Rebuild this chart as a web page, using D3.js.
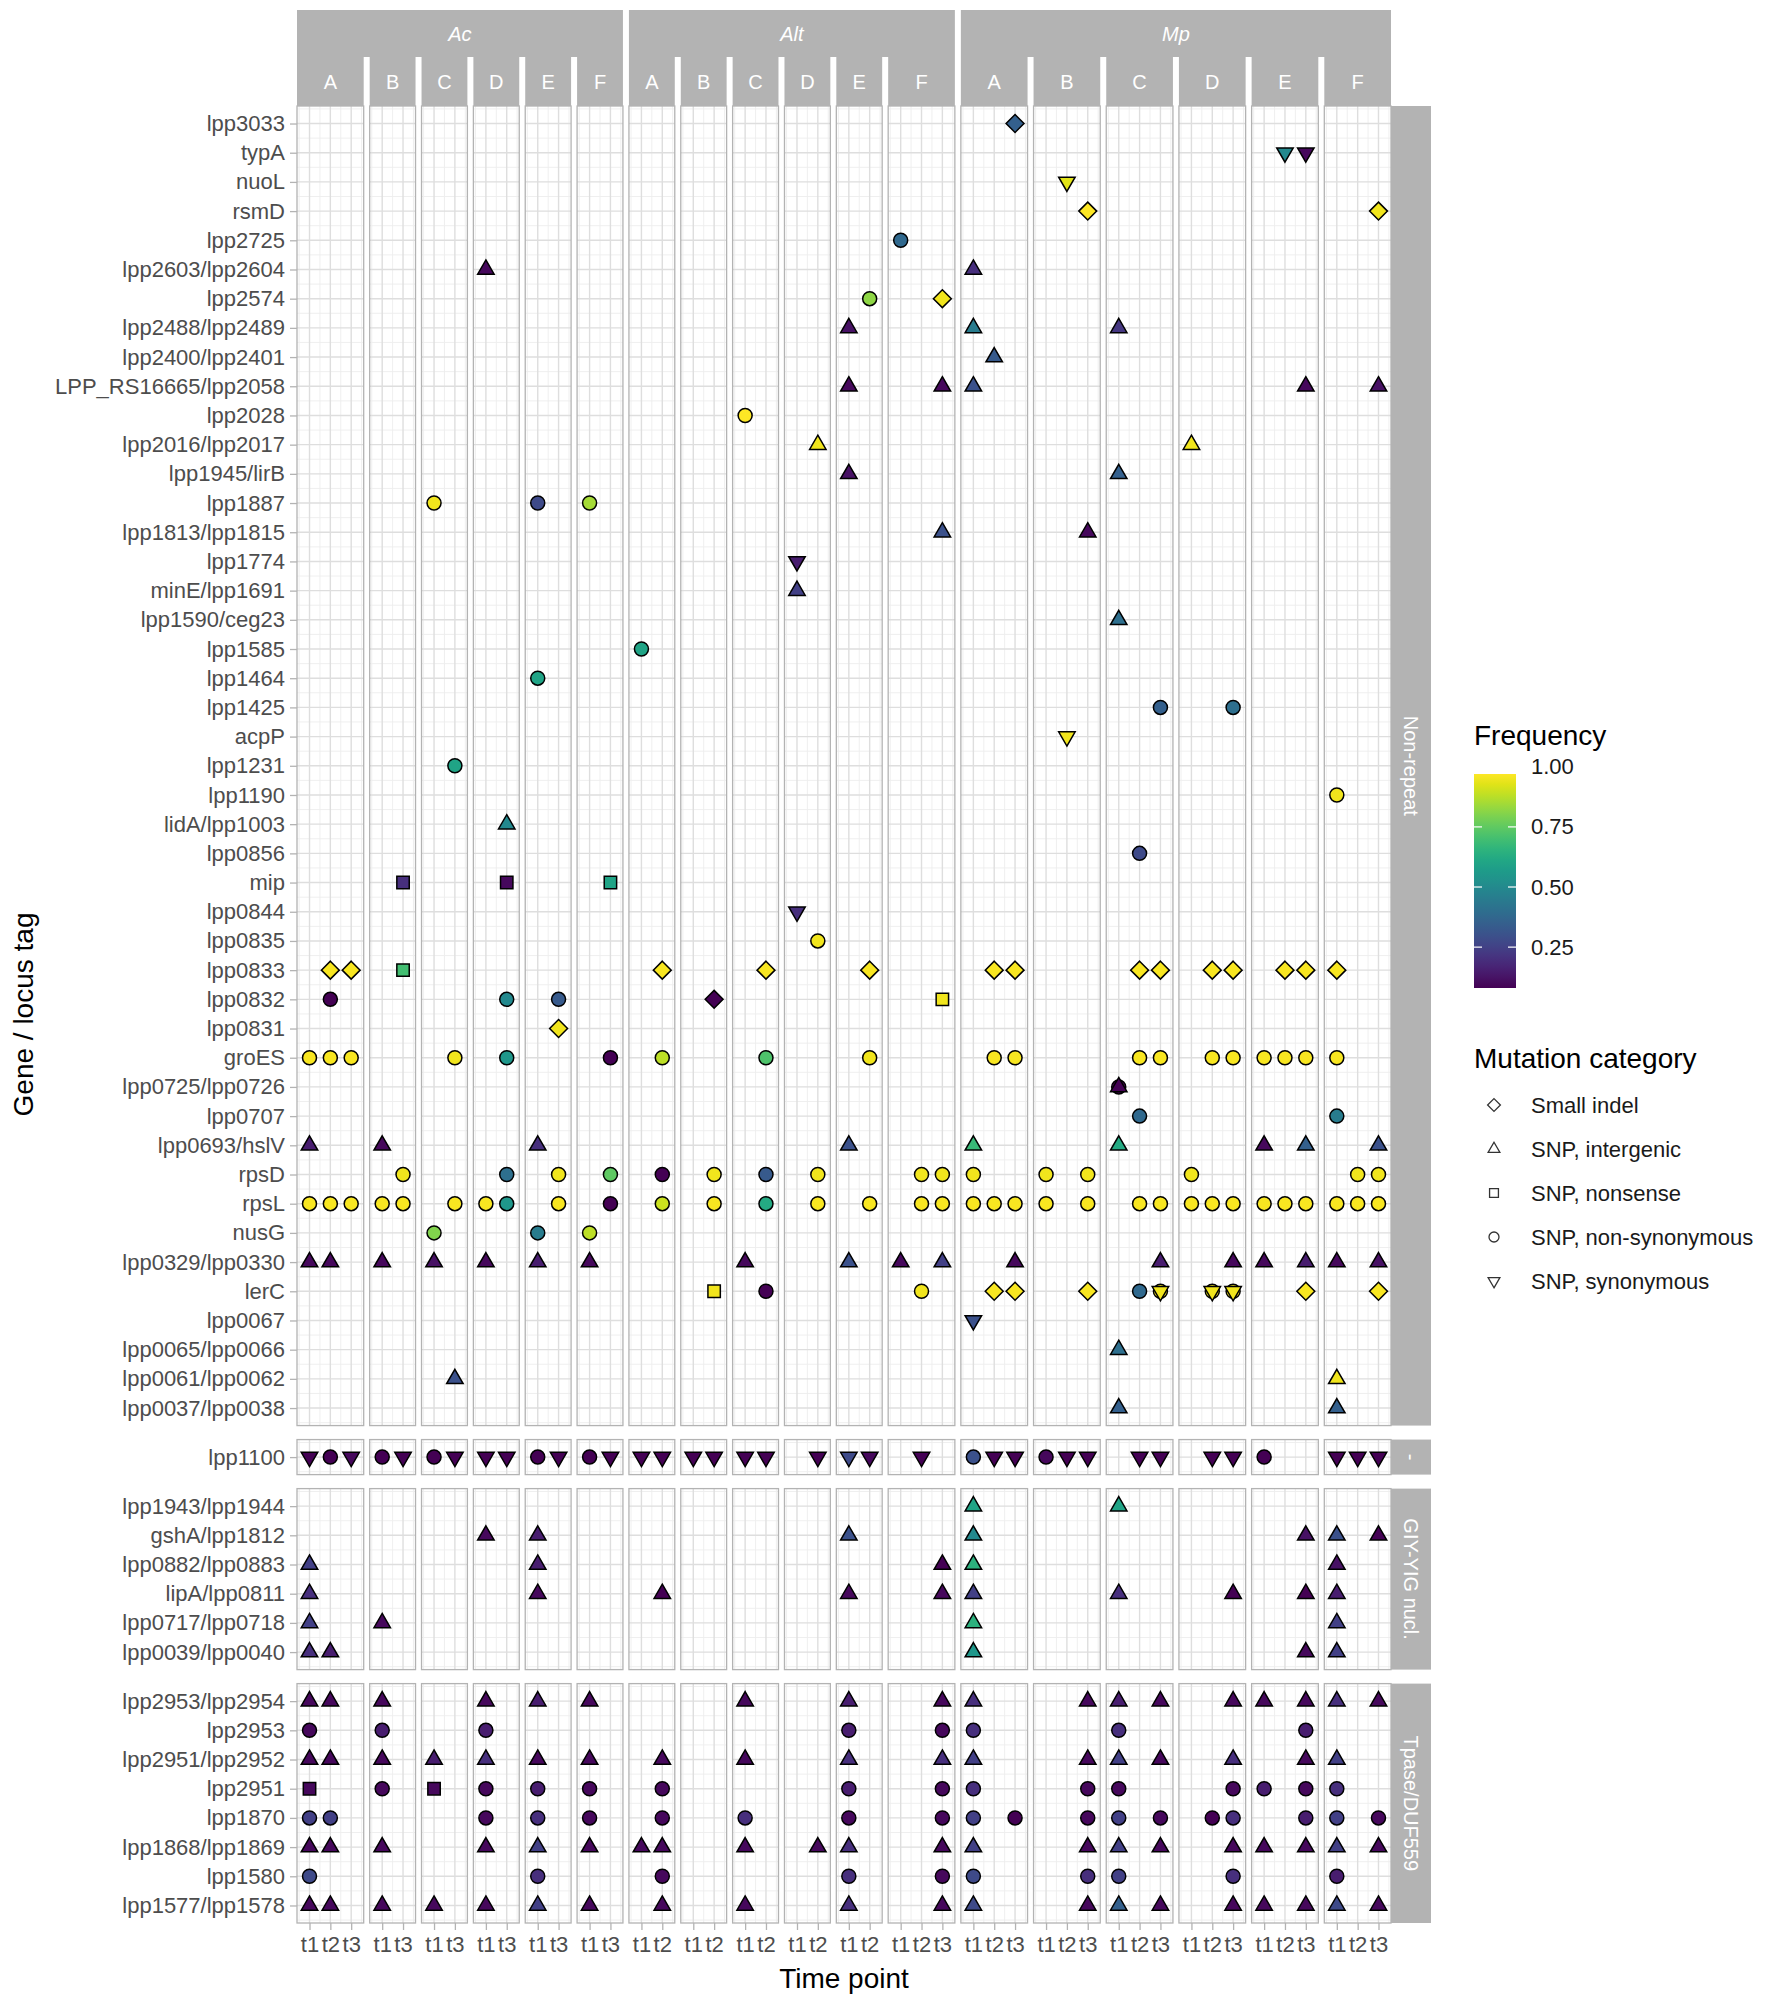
<!DOCTYPE html>
<html>
<head>
<meta charset="utf-8">
<script src="https://cdn.jsdelivr.net/npm/d3@7"></script>
<style>
  body { margin: 0; background: #fff; }
  text { font-family: "Liberation Sans", Arial, Helvetica, sans-serif; }
</style>
</head>
<body>
<svg id="chart" width="1774" height="2000"></svg>
<script>
// ---- data ----
const groups = ["Ac", "Alt", "Mp"];
const lines = ["A", "B", "C", "D", "E", "F"];
// time points sampled per line, one list per group
const acTimes  = [["t1","t2","t3"], ["t1","t3"], ["t1","t3"], ["t1","t3"], ["t1","t3"], ["t1","t3"]];
const altTimes = [["t1","t2"], ["t1","t2"], ["t1","t2"], ["t1","t2"], ["t1","t2"], ["t1","t2","t3"]];
const mpTimes  = [["t1","t2","t3"], ["t1","t2","t3"], ["t1","t2","t3"], ["t1","t2","t3"], ["t1","t2","t3"], ["t1","t2","t3"]];

const rowFacets = ["Non-repeat", "-", "GIY-YIG nucl.", "Tpase/DUF559"];

const nonRepeatGenes = ["lpp3033","typA","nuoL","rsmD","lpp2725","lpp2603/lpp2604","lpp2574","lpp2488/lpp2489",
  "lpp2400/lpp2401","LPP_RS16665/lpp2058","lpp2028","lpp2016/lpp2017","lpp1945/lirB","lpp1887","lpp1813/lpp1815",
  "lpp1774","minE/lpp1691","lpp1590/ceg23","lpp1585","lpp1464","lpp1425","acpP","lpp1231","lpp1190","lidA/lpp1003",
  "lpp0856","mip","lpp0844","lpp0835","lpp0833","lpp0832","lpp0831","groES","lpp0725/lpp0726","lpp0707",
  "lpp0693/hslV","rpsD","rpsL","nusG","lpp0329/lpp0330","lerC","lpp0067","lpp0065/lpp0066","lpp0061/lpp0062",
  "lpp0037/lpp0038"];
const otherGenes = ["lpp1100"];
const giyGenes = ["lpp1943/lpp1944","gshA/lpp1812","lpp0882/lpp0883","lipA/lpp0811","lpp0717/lpp0718","lpp0039/lpp0040"];
const tpaseGenes = ["lpp2953/lpp2954","lpp2953","lpp2951/lpp2952","lpp2951","lpp1870","lpp1868/lpp1869","lpp1580","lpp1577/lpp1578"];

const categories = ["Small indel", "SNP, intergenic", "SNP, nonsense", "SNP, non-synonymous", "SNP, synonymous"];
const categoryCodes = ["I", "G", "N", "S", "Y"];

// [gene, group+line, time points, category code, frequency]
const nonRepeatMuts = [
  ["lpp3033","MpA","t3","I",0.35],
  ["typA","MpE","t2","Y",0.5], ["typA","MpE","t3","Y",0.1],
  ["nuoL","MpB","t2","Y",0.93],
  ["rsmD","MpB","t3","I",0.97], ["rsmD","MpF","t3","I",0.95],
  ["lpp2725","AltF","t1","S",0.38],
  ["lpp2603/lpp2604","AcD","t1","G",0.1], ["lpp2603/lpp2604","MpA","t1","G",0.2],
  ["lpp2574","AltE","t2","S",0.82], ["lpp2574","AltF","t3","I",0.95],
  ["lpp2488/lpp2489","AltE","t1","G",0.12], ["lpp2488/lpp2489","MpA","t1","G",0.45], ["lpp2488/lpp2489","MpC","t1","G",0.22],
  ["lpp2400/lpp2401","MpA","t2","G",0.33],
  ["LPP_RS16665/lpp2058","AltE","t1","G",0.1], ["LPP_RS16665/lpp2058","AltF","t3","G",0.1],
  ["LPP_RS16665/lpp2058","MpA","t1","G",0.3], ["LPP_RS16665/lpp2058","MpE","t3","G",0.1],
  ["LPP_RS16665/lpp2058","MpF","t3","G",0.12],
  ["lpp2028","AltC","t1","S",0.97],
  ["lpp2016/lpp2017","AltD","t2","G",0.95], ["lpp2016/lpp2017","MpD","t1","G",0.95],
  ["lpp1945/lirB","AltE","t1","G",0.12], ["lpp1945/lirB","MpC","t1","G",0.35],
  ["lpp1887","AcC","t1","S",0.95], ["lpp1887","AcE","t1","S",0.28], ["lpp1887","AcF","t1","S",0.85],
  ["lpp1813/lpp1815","AltF","t3","G",0.3], ["lpp1813/lpp1815","MpB","t3","G",0.1],
  ["lpp1774","AltD","t1","Y",0.15],
  ["minE/lpp1691","AltD","t1","G",0.25],
  ["lpp1590/ceg23","MpC","t1","G",0.4],
  ["lpp1585","AltA","t1","S",0.6],
  ["lpp1464","AcE","t1","S",0.6],
  ["lpp1425","MpC","t3","S",0.35], ["lpp1425","MpD","t3","S",0.4],
  ["acpP","MpB","t2","Y",0.95],
  ["lpp1231","AcC","t3","S",0.6],
  ["lpp1190","MpF","t1","S",0.95],
  ["lidA/lpp1003","AcD","t3","G",0.5],
  ["lpp0856","MpC","t2","S",0.28],
  ["mip","AcB","t3","N",0.2], ["mip","AcD","t3","N",0.1], ["mip","AcF","t3","N",0.6],
  ["lpp0844","AltD","t1","Y",0.2],
  ["lpp0835","AltD","t2","S",0.95],
  ["lpp0833","AcA","t2,t3","I",0.96], ["lpp0833","AcB","t3","N",0.7], ["lpp0833","AltA","t2","I",0.96],
  ["lpp0833","AltC","t2","I",0.96], ["lpp0833","AltE","t2","I",0.96], ["lpp0833","MpA","t2,t3","I",0.96],
  ["lpp0833","MpC","t2,t3","I",0.96], ["lpp0833","MpD","t2,t3","I",0.96], ["lpp0833","MpE","t2,t3","I",0.96],
  ["lpp0833","MpF","t1","I",0.96],
  ["lpp0832","AcA","t2","S",0.08], ["lpp0832","AcD","t3","S",0.5], ["lpp0832","AcE","t3","S",0.33],
  ["lpp0832","AltB","t2","I",0.08], ["lpp0832","AltF","t3","N",0.95],
  ["lpp0831","AcE","t3","I",0.95],
  ["groES","AcA","t1,t2,t3","S",0.96], ["groES","AcC","t3","S",0.95], ["groES","AcD","t3","S",0.55],
  ["groES","AcF","t3","S",0.08], ["groES","AltA","t2","S",0.88], ["groES","AltC","t2","S",0.72],
  ["groES","AltE","t2","S",0.95], ["groES","MpA","t2,t3","S",0.96], ["groES","MpC","t2,t3","S",0.96],
  ["groES","MpD","t2,t3","S",0.96], ["groES","MpE","t1,t2,t3","S",0.96], ["groES","MpF","t1","S",0.96],
  ["lpp0725/lpp0726","MpC","t1","S",0.08], ["lpp0725/lpp0726","MpC","t1","G",0.08],
  ["lpp0707","MpC","t2","S",0.38], ["lpp0707","MpF","t1","S",0.45],
  ["lpp0693/hslV","AcA","t1","G",0.15], ["lpp0693/hslV","AcB","t1","G",0.1], ["lpp0693/hslV","AcE","t1","G",0.2],
  ["lpp0693/hslV","AltE","t1","G",0.3], ["lpp0693/hslV","MpA","t1","G",0.68], ["lpp0693/hslV","MpC","t1","G",0.62],
  ["lpp0693/hslV","MpE","t1","G",0.1], ["lpp0693/hslV","MpE","t3","G",0.35], ["lpp0693/hslV","MpF","t3","G",0.3],
  ["rpsD","AcB","t3","S",0.95], ["rpsD","AcD","t3","S",0.4], ["rpsD","AcE","t3","S",0.95], ["rpsD","AcF","t3","S",0.75],
  ["rpsD","AltA","t2","S",0.08], ["rpsD","AltB","t2","S",0.95], ["rpsD","AltC","t2","S",0.33], ["rpsD","AltD","t2","S",0.95],
  ["rpsD","AltF","t2,t3","S",0.95], ["rpsD","MpA","t1","S",0.95], ["rpsD","MpB","t1,t3","S",0.95],
  ["rpsD","MpD","t1","S",0.95], ["rpsD","MpF","t2,t3","S",0.95],
  ["rpsL","AcA","t1,t2,t3","S",0.96], ["rpsL","AcB","t1,t3","S",0.96], ["rpsL","AcC","t3","S",0.96],
  ["rpsL","AcD","t1","S",0.96], ["rpsL","AcD","t3","S",0.55], ["rpsL","AcE","t3","S",0.96], ["rpsL","AcF","t3","S",0.08],
  ["rpsL","AltA","t2","S",0.9], ["rpsL","AltB","t2","S",0.96], ["rpsL","AltC","t2","S",0.62], ["rpsL","AltD","t2","S",0.96],
  ["rpsL","AltE","t2","S",0.96], ["rpsL","AltF","t2,t3","S",0.96], ["rpsL","MpA","t1,t2,t3","S",0.96],
  ["rpsL","MpB","t1,t3","S",0.96], ["rpsL","MpC","t2,t3","S",0.96], ["rpsL","MpD","t1,t2,t3","S",0.96],
  ["rpsL","MpE","t1,t2,t3","S",0.96], ["rpsL","MpF","t1,t2,t3","S",0.96],
  ["nusG","AcC","t1","S",0.8], ["nusG","AcE","t1","S",0.45], ["nusG","AcF","t1","S",0.88],
  ["lpp0329/lpp0330","AcA","t1,t2","G",0.1], ["lpp0329/lpp0330","AcB","t1","G",0.1], ["lpp0329/lpp0330","AcC","t1","G",0.12],
  ["lpp0329/lpp0330","AcD","t1","G",0.1], ["lpp0329/lpp0330","AcE","t1","G",0.15], ["lpp0329/lpp0330","AcF","t1","G",0.1],
  ["lpp0329/lpp0330","AltC","t1","G",0.1], ["lpp0329/lpp0330","AltE","t1","G",0.3], ["lpp0329/lpp0330","AltF","t1","G",0.1],
  ["lpp0329/lpp0330","AltF","t3","G",0.25], ["lpp0329/lpp0330","MpA","t3","G",0.1], ["lpp0329/lpp0330","MpC","t3","G",0.15],
  ["lpp0329/lpp0330","MpD","t3","G",0.1], ["lpp0329/lpp0330","MpE","t1","G",0.1], ["lpp0329/lpp0330","MpE","t3","G",0.15],
  ["lpp0329/lpp0330","MpF","t1","G",0.1], ["lpp0329/lpp0330","MpF","t3","G",0.12],
  ["lerC","AltB","t2","N",0.95], ["lerC","AltC","t2","S",0.08], ["lerC","AltF","t2","S",0.95],
  ["lerC","MpA","t2,t3","I",0.96], ["lerC","MpB","t3","I",0.96], ["lerC","MpC","t2","S",0.38],
  ["lerC","MpC","t3","S",0.95], ["lerC","MpC","t3","Y",0.95], ["lerC","MpD","t2,t3","S",0.95],
  ["lerC","MpD","t2,t3","Y",0.95], ["lerC","MpE","t3","I",0.96], ["lerC","MpF","t3","I",0.96],
  ["lpp0067","MpA","t1","Y",0.3],
  ["lpp0065/lpp0066","MpC","t1","G",0.4],
  ["lpp0061/lpp0062","AcC","t3","G",0.3], ["lpp0061/lpp0062","MpF","t1","G",0.95],
  ["lpp0037/lpp0038","MpC","t1","G",0.35], ["lpp0037/lpp0038","MpF","t1","G",0.35]
];

const otherMuts = [
  ["lpp1100","AcA","t1","Y",0.08], ["lpp1100","AcA","t2","S",0.08], ["lpp1100","AcA","t3","Y",0.1],
  ["lpp1100","AcB","t1","S",0.08], ["lpp1100","AcB","t3","Y",0.08],
  ["lpp1100","AcC","t1","S",0.08], ["lpp1100","AcC","t3","Y",0.08],
  ["lpp1100","AcD","t1,t3","Y",0.08],
  ["lpp1100","AcE","t1","S",0.08], ["lpp1100","AcE","t3","Y",0.08],
  ["lpp1100","AcF","t1","S",0.08], ["lpp1100","AcF","t3","Y",0.08],
  ["lpp1100","AltA","t1,t2","Y",0.08], ["lpp1100","AltB","t1,t2","Y",0.08], ["lpp1100","AltC","t1,t2","Y",0.08],
  ["lpp1100","AltD","t2","Y",0.08], ["lpp1100","AltE","t1","Y",0.28], ["lpp1100","AltE","t2","Y",0.1],
  ["lpp1100","AltF","t2","Y",0.08],
  ["lpp1100","MpA","t1","S",0.3], ["lpp1100","MpA","t2,t3","Y",0.08],
  ["lpp1100","MpB","t1","S",0.1], ["lpp1100","MpB","t2,t3","Y",0.08],
  ["lpp1100","MpC","t2,t3","Y",0.08], ["lpp1100","MpD","t2,t3","Y",0.08],
  ["lpp1100","MpE","t1","S",0.08], ["lpp1100","MpF","t1,t2,t3","Y",0.08]
];

const giyMuts = [
  ["lpp1943/lpp1944","MpA","t1","G",0.6], ["lpp1943/lpp1944","MpC","t1","G",0.6],
  ["gshA/lpp1812","AcD","t1","G",0.1], ["gshA/lpp1812","AcE","t1","G",0.15], ["gshA/lpp1812","AltE","t1","G",0.3],
  ["gshA/lpp1812","MpA","t1","G",0.5], ["gshA/lpp1812","MpE","t3","G",0.12], ["gshA/lpp1812","MpF","t1","G",0.3],
  ["gshA/lpp1812","MpF","t3","G",0.08],
  ["lpp0882/lpp0883","AcA","t1","G",0.25], ["lpp0882/lpp0883","AcE","t1","G",0.15], ["lpp0882/lpp0883","AltF","t3","G",0.08],
  ["lpp0882/lpp0883","MpA","t1","G",0.65], ["lpp0882/lpp0883","MpF","t1","G",0.12],
  ["lipA/lpp0811","AcA","t1","G",0.2], ["lipA/lpp0811","AcE","t1","G",0.1], ["lipA/lpp0811","AltA","t2","G",0.08],
  ["lipA/lpp0811","AltE","t1","G",0.1], ["lipA/lpp0811","AltF","t3","G",0.1], ["lipA/lpp0811","MpA","t1","G",0.25],
  ["lipA/lpp0811","MpC","t1","G",0.2], ["lipA/lpp0811","MpD","t3","G",0.08], ["lipA/lpp0811","MpE","t3","G",0.08],
  ["lipA/lpp0811","MpF","t1","G",0.15],
  ["lpp0717/lpp0718","AcA","t1","G",0.25], ["lpp0717/lpp0718","AcB","t1","G",0.1],
  ["lpp0717/lpp0718","MpA","t1","G",0.65], ["lpp0717/lpp0718","MpF","t1","G",0.25],
  ["lpp0039/lpp0040","AcA","t1","G",0.2], ["lpp0039/lpp0040","AcA","t2","G",0.15], ["lpp0039/lpp0040","MpA","t1","G",0.55],
  ["lpp0039/lpp0040","MpE","t3","G",0.1], ["lpp0039/lpp0040","MpF","t1","G",0.25]
];

const tpaseMuts = [
  ["lpp2953/lpp2954","AcA","t1,t2","G",0.1], ["lpp2953/lpp2954","AcB","t1","G",0.1], ["lpp2953/lpp2954","AcD","t1","G",0.1],
  ["lpp2953/lpp2954","AcE","t1","G",0.15], ["lpp2953/lpp2954","AcF","t1","G",0.1], ["lpp2953/lpp2954","AltC","t1","G",0.1],
  ["lpp2953/lpp2954","AltE","t1","G",0.15], ["lpp2953/lpp2954","AltF","t3","G",0.1], ["lpp2953/lpp2954","MpA","t1","G",0.2],
  ["lpp2953/lpp2954","MpB","t3","G",0.1], ["lpp2953/lpp2954","MpC","t1","G",0.15], ["lpp2953/lpp2954","MpC","t3","G",0.1],
  ["lpp2953/lpp2954","MpD","t3","G",0.1], ["lpp2953/lpp2954","MpE","t1","G",0.1], ["lpp2953/lpp2954","MpE","t3","G",0.1],
  ["lpp2953/lpp2954","MpF","t1","G",0.2], ["lpp2953/lpp2954","MpF","t3","G",0.1],
  ["lpp2953","AcA","t1","S",0.1], ["lpp2953","AcB","t1","S",0.15], ["lpp2953","AcD","t1","S",0.15],
  ["lpp2953","AltE","t1","S",0.15], ["lpp2953","AltF","t3","S",0.1], ["lpp2953","MpA","t1","S",0.2],
  ["lpp2953","MpC","t1","S",0.2], ["lpp2953","MpE","t3","S",0.15],
  ["lpp2951/lpp2952","AcA","t1,t2","G",0.1], ["lpp2951/lpp2952","AcB","t1","G",0.1], ["lpp2951/lpp2952","AcC","t1","G",0.15],
  ["lpp2951/lpp2952","AcD","t1","G",0.2], ["lpp2951/lpp2952","AcE","t1","G",0.1], ["lpp2951/lpp2952","AcF","t1","G",0.1],
  ["lpp2951/lpp2952","AltA","t2","G",0.1], ["lpp2951/lpp2952","AltC","t1","G",0.1], ["lpp2951/lpp2952","AltE","t1","G",0.2],
  ["lpp2951/lpp2952","AltF","t3","G",0.2], ["lpp2951/lpp2952","MpA","t1","G",0.25], ["lpp2951/lpp2952","MpB","t3","G",0.1],
  ["lpp2951/lpp2952","MpC","t1","G",0.25], ["lpp2951/lpp2952","MpC","t3","G",0.1], ["lpp2951/lpp2952","MpD","t3","G",0.2],
  ["lpp2951/lpp2952","MpE","t3","G",0.1], ["lpp2951/lpp2952","MpF","t1","G",0.25],
  ["lpp2951","AcA","t1","N",0.1], ["lpp2951","AcB","t1","S",0.1], ["lpp2951","AcC","t1","N",0.1],
  ["lpp2951","AcD","t1","S",0.1], ["lpp2951","AcE","t1","S",0.15], ["lpp2951","AcF","t1","S",0.1],
  ["lpp2951","AltA","t2","S",0.1], ["lpp2951","AltE","t1","S",0.15], ["lpp2951","AltF","t3","S",0.1],
  ["lpp2951","MpA","t1","S",0.2], ["lpp2951","MpB","t3","S",0.1], ["lpp2951","MpC","t1","S",0.1],
  ["lpp2951","MpD","t3","S",0.1], ["lpp2951","MpE","t1","S",0.15], ["lpp2951","MpE","t3","S",0.1],
  ["lpp2951","MpF","t1","S",0.2],
  ["lpp1870","AcA","t1,t2","S",0.25], ["lpp1870","AcD","t1","S",0.1], ["lpp1870","AcE","t1","S",0.2],
  ["lpp1870","AcF","t1","S",0.1], ["lpp1870","AltA","t2","S",0.1], ["lpp1870","AltC","t1","S",0.2],
  ["lpp1870","AltE","t1","S",0.1], ["lpp1870","AltF","t3","S",0.1], ["lpp1870","MpA","t1","S",0.25],
  ["lpp1870","MpA","t3","S",0.08], ["lpp1870","MpB","t3","S",0.1], ["lpp1870","MpC","t1","S",0.25],
  ["lpp1870","MpC","t3","S",0.1], ["lpp1870","MpD","t2","S",0.08], ["lpp1870","MpD","t3","S",0.2],
  ["lpp1870","MpE","t3","S",0.15], ["lpp1870","MpF","t1","S",0.25], ["lpp1870","MpF","t3","S",0.1],
  ["lpp1868/lpp1869","AcA","t1,t2","G",0.1], ["lpp1868/lpp1869","AcB","t1","G",0.1], ["lpp1868/lpp1869","AcD","t1","G",0.1],
  ["lpp1868/lpp1869","AcE","t1","G",0.25], ["lpp1868/lpp1869","AcF","t1","G",0.1], ["lpp1868/lpp1869","AltA","t1,t2","G",0.1],
  ["lpp1868/lpp1869","AltC","t1","G",0.1], ["lpp1868/lpp1869","AltD","t2","G",0.1], ["lpp1868/lpp1869","AltE","t1","G",0.2],
  ["lpp1868/lpp1869","AltF","t3","G",0.1], ["lpp1868/lpp1869","MpA","t1","G",0.25], ["lpp1868/lpp1869","MpB","t3","G",0.1],
  ["lpp1868/lpp1869","MpC","t1","G",0.25], ["lpp1868/lpp1869","MpC","t3","G",0.1], ["lpp1868/lpp1869","MpD","t3","G",0.1],
  ["lpp1868/lpp1869","MpE","t1","G",0.1], ["lpp1868/lpp1869","MpE","t3","G",0.1], ["lpp1868/lpp1869","MpF","t1","G",0.25],
  ["lpp1868/lpp1869","MpF","t3","G",0.1],
  ["lpp1580","AcA","t1","S",0.28], ["lpp1580","AcE","t1","S",0.2], ["lpp1580","AltA","t2","S",0.1],
  ["lpp1580","AltE","t1","S",0.2], ["lpp1580","AltF","t3","S",0.1], ["lpp1580","MpA","t1","S",0.28],
  ["lpp1580","MpB","t3","S",0.2], ["lpp1580","MpC","t1","S",0.25], ["lpp1580","MpD","t3","S",0.2],
  ["lpp1580","MpF","t1","S",0.15],
  ["lpp1577/lpp1578","AcA","t1,t2","G",0.1], ["lpp1577/lpp1578","AcB","t1","G",0.1], ["lpp1577/lpp1578","AcC","t1","G",0.1],
  ["lpp1577/lpp1578","AcD","t1","G",0.1], ["lpp1577/lpp1578","AcE","t1","G",0.25], ["lpp1577/lpp1578","AcF","t1","G",0.1],
  ["lpp1577/lpp1578","AltA","t2","G",0.1], ["lpp1577/lpp1578","AltC","t1","G",0.1], ["lpp1577/lpp1578","AltE","t1","G",0.2],
  ["lpp1577/lpp1578","AltF","t3","G",0.1], ["lpp1577/lpp1578","MpA","t1","G",0.28], ["lpp1577/lpp1578","MpB","t3","G",0.1],
  ["lpp1577/lpp1578","MpC","t1","G",0.35], ["lpp1577/lpp1578","MpC","t3","G",0.1], ["lpp1577/lpp1578","MpD","t3","G",0.1],
  ["lpp1577/lpp1578","MpE","t1","G",0.1], ["lpp1577/lpp1578","MpE","t3","G",0.1], ["lpp1577/lpp1578","MpF","t1","G",0.28],
  ["lpp1577/lpp1578","MpF","t3","G",0.1]
];

const freqTicks = [0.25, 0.5, 0.75, 1.0];

// ---- layout ----
const plotLeft = 297, plotRight = 1391, panelTop = 106, panelBottom = 1923;
const gapX = 6, gapY = 14;
const stripColor = "#B3B3B3", gridColor = "#DEDEDE", minorColor = "#EDEDED";

const svg = d3.select("#chart");
svg.append("rect").attr("width", 1774).attr("height", 2000).attr("fill", "#fff");

const timeSets = [acTimes, altTimes, mpTimes];
const panels = [];
groups.forEach((g, gi) => lines.forEach((l, li) => {
  panels.push({ group: g, line: l, key: g + l, times: timeSets[gi][li] });
}));
const unitsX = d3.sum(panels, p => p.times.length + 0.2);
const unitX = (plotRight - plotLeft - gapX * (panels.length - 1)) / unitsX;
let cursorX = plotLeft;
panels.forEach(p => {
  p.x0 = cursorX;
  p.w = (p.times.length + 0.2) * unitX;
  p.x = d3.scalePoint().domain(p.times).range([p.x0, p.x0 + p.w]).padding(0.6);
  cursorX += p.w + gapX;
});
const panelByKey = new Map(panels.map(p => [p.key, p]));

const rows = [
  { label: rowFacets[0], genes: nonRepeatGenes, muts: nonRepeatMuts },
  { label: rowFacets[1], genes: otherGenes, muts: otherMuts },
  { label: rowFacets[2], genes: giyGenes, muts: giyMuts },
  { label: rowFacets[3], genes: tpaseGenes, muts: tpaseMuts }
];
const unitsY = d3.sum(rows, r => r.genes.length + 0.2);
const unitY = (panelBottom - panelTop - gapY * (rows.length - 1)) / unitsY;
let cursorY = panelTop;
rows.forEach(r => {
  r.y0 = cursorY;
  r.h = (r.genes.length + 0.2) * unitY;
  r.y = d3.scalePoint().domain(r.genes).range([r.y0, r.y0 + r.h]).padding(0.6);
  cursorY += r.h + gapY;
});

const allFreqs = rows.flatMap(r => r.muts.map(m => m[4]));
const color = d3.scaleSequential(d3.interpolateViridis).domain(d3.extent(allFreqs));

// shape paths, base radius r (ggplot-like equal-area symbols)
function shapePath(code, r) {
  if (code === "S") return `M${-r},0a${r},${r} 0 1,0 ${2 * r},0a${r},${r} 0 1,0 ${-2 * r},0Z`;
  if (code === "N") { const s = r * 0.886; return `M${-s},${-s}H${s}V${s}H${-s}Z`; }
  if (code === "I") { const d = r * 1.28; return `M0,${-d}L${d},0L0,${d}L${-d},0Z`; }
  const t = r * 1.36, hx = t * Math.sqrt(3) / 2;
  if (code === "G") return `M0,${-t}L${hx},${t / 2}L${-hx},${t / 2}Z`;
  return `M0,${t}L${hx},${-t / 2}L${-hx},${-t / 2}Z`;
}

// ---- panels: grid ----
const gridG = svg.append("g");
rows.forEach(r => {
  const stepY = r.y.step();
  const y0 = r.y(r.genes[0]);
  panels.forEach(p => {
    const stepX = p.x.step();
    const x0 = p.x(p.times[0]);
    const g = gridG.append("g");
    d3.range(p.times.length + 1).forEach(k => {
      const x = x0 + (k - 0.5) * stepX;
      g.append("line").attr("x1", x).attr("x2", x).attr("y1", r.y0).attr("y2", r.y0 + r.h)
        .attr("stroke", minorColor).attr("stroke-width", 0.9);
    });
    d3.range(r.genes.length + 1).forEach(k => {
      const y = y0 + (k - 0.5) * stepY;
      g.append("line").attr("x1", p.x0).attr("x2", p.x0 + p.w).attr("y1", y).attr("y2", y)
        .attr("stroke", minorColor).attr("stroke-width", 0.9);
    });
    p.times.forEach(t => {
      g.append("line").attr("x1", p.x(t)).attr("x2", p.x(t)).attr("y1", r.y0).attr("y2", r.y0 + r.h)
        .attr("stroke", gridColor).attr("stroke-width", 1.4);
    });
    r.genes.forEach(gn => {
      g.append("line").attr("x1", p.x0).attr("x2", p.x0 + p.w).attr("y1", r.y(gn)).attr("y2", r.y(gn))
        .attr("stroke", gridColor).attr("stroke-width", 1.4);
    });
  });
});

// ---- points ----
const pointG = svg.append("g");
rows.forEach(r => {
  const pts = r.muts.flatMap(m => m[2].split(",").map(t => ({ gene: m[0], panel: panelByKey.get(m[1]), time: t, code: m[3], freq: m[4] })));
  pointG.selectAll(null).data(pts).join("path")
    .attr("transform", d => `translate(${d.panel.x(d.time)},${r.y(d.gene)})`)
    .attr("d", d => shapePath(d.code, 7))
    .attr("fill", d => color(d.freq))
    .attr("stroke", "#000")
    .attr("stroke-width", 1.5);
});

// ---- panel borders ----
rows.forEach(r => panels.forEach(p => {
  svg.append("rect").attr("x", p.x0).attr("y", r.y0).attr("width", p.w).attr("height", r.h)
    .attr("fill", "none").attr("stroke", stripColor).attr("stroke-width", 1.3);
}));

// ---- top strips ----
groups.forEach(g => {
  const ps = panels.filter(p => p.group === g);
  const x0 = ps[0].x0, x1 = ps[ps.length - 1].x0 + ps[ps.length - 1].w;
  svg.append("rect").attr("x", x0).attr("y", 10).attr("width", x1 - x0).attr("height", 47).attr("fill", stripColor);
  svg.append("text").attr("x", (x0 + x1) / 2).attr("y", 33.5).attr("dy", "0.35em")
    .attr("text-anchor", "middle").attr("fill", "#fff").attr("font-size", 20).attr("font-style", "italic").text(g);
});
panels.forEach(p => {
  svg.append("rect").attr("x", p.x0).attr("y", 57).attr("width", p.w).attr("height", 49).attr("fill", stripColor);
  svg.append("text").attr("x", p.x0 + p.w / 2).attr("y", 81.5).attr("dy", "0.35em")
    .attr("text-anchor", "middle").attr("fill", "#fff").attr("font-size", 20).text(p.line);
});

// ---- right strips ----
rows.forEach(r => {
  svg.append("rect").attr("x", plotRight).attr("y", r.y0).attr("width", 40).attr("height", r.h).attr("fill", stripColor);
  svg.append("text").attr("transform", `translate(${plotRight + 20},${r.y0 + r.h / 2}) rotate(90)`)
    .attr("dy", "0.35em").attr("text-anchor", "middle").attr("fill", "#fff").attr("font-size", 20).text(r.label);
});

// ---- axes ----
function styleAxis(sel) {
  sel.select(".domain").remove();
  sel.selectAll(".tick line").attr("stroke", stripColor).attr("stroke-width", 1.3);
  sel.selectAll(".tick text").attr("fill", "#4D4D4D").attr("font-size", 22)
    .attr("font-family", "'Liberation Sans', Arial, sans-serif");
}
rows.forEach(r => {
  svg.append("g").attr("transform", `translate(${plotLeft},0)`)
    .call(d3.axisLeft(r.y).tickSize(7).tickPadding(5)).call(styleAxis);
});
const lastRow = rows[rows.length - 1];
panels.forEach(p => {
  svg.append("g").attr("transform", `translate(0,${lastRow.y0 + lastRow.h})`)
    .call(d3.axisBottom(p.x).tickSize(7).tickPadding(6)).call(styleAxis);
});

svg.append("text").attr("x", (plotLeft + plotRight) / 2).attr("y", 1988)
  .attr("text-anchor", "middle").attr("font-size", 28).attr("fill", "#000").text("Time point");
svg.append("text").attr("transform", `translate(23,${(panelTop + panelBottom) / 2}) rotate(-90)`)
  .attr("dy", "0.35em").attr("text-anchor", "middle").attr("font-size", 28).attr("fill", "#000").text("Gene / locus tag");

// ---- legend: frequency colourbar ----
const legX = 1474;
svg.append("text").attr("x", legX).attr("y", 745).attr("font-size", 28).attr("fill", "#000").text("Frequency");
const barTop = 774, barBottom = 988, barW = 42;
const defs = svg.append("defs");
const grad = defs.append("linearGradient").attr("id", "freqGrad").attr("x1", 0).attr("y1", 1).attr("x2", 0).attr("y2", 0);
d3.range(0, 1.0001, 0.05).forEach(t => {
  grad.append("stop").attr("offset", t).attr("stop-color", d3.interpolateViridis(t));
});
svg.append("rect").attr("x", legX).attr("y", barTop).attr("width", barW).attr("height", barBottom - barTop)
  .attr("fill", "url(#freqGrad)");
const barScale = d3.scaleLinear().domain(color.domain()).range([barBottom, barTop]);
freqTicks.forEach(v => {
  const y = barScale(v);
  svg.append("line").attr("x1", legX).attr("x2", legX + 8).attr("y1", y).attr("y2", y).attr("stroke", "#fff").attr("stroke-width", 1.2);
  svg.append("line").attr("x1", legX + barW - 8).attr("x2", legX + barW).attr("y1", y).attr("y2", y).attr("stroke", "#fff").attr("stroke-width", 1.2);
});
svg.append("g").attr("transform", `translate(${legX + barW},0)`)
  .call(d3.axisRight(barScale).tickValues(freqTicks).tickFormat(d3.format(".2f")).tickSize(0).tickPadding(15))
  .call(sel => {
    sel.select(".domain").remove();
    sel.selectAll(".tick text").attr("font-size", 22).attr("fill", "#1A1A1A")
      .attr("font-family", "'Liberation Sans', Arial, sans-serif");
  });

// ---- legend: mutation category ----
svg.append("text").attr("x", legX).attr("y", 1068).attr("font-size", 28).attr("fill", "#000").text("Mutation category");
const keyY = d3.scalePoint().domain(categories).range([1105, 1281]);
categories.forEach((c, i) => {
  svg.append("path").attr("transform", `translate(${legX + 20},${keyY(c)})`)
    .attr("d", shapePath(categoryCodes[i], 5)).attr("fill", "#fff").attr("stroke", "#333").attr("stroke-width", 1.3);
  svg.append("text").attr("x", legX + 57).attr("y", keyY(c)).attr("dy", "0.35em")
    .attr("font-size", 22).attr("fill", "#1A1A1A").text(c);
});
</script>
</body>
</html>
